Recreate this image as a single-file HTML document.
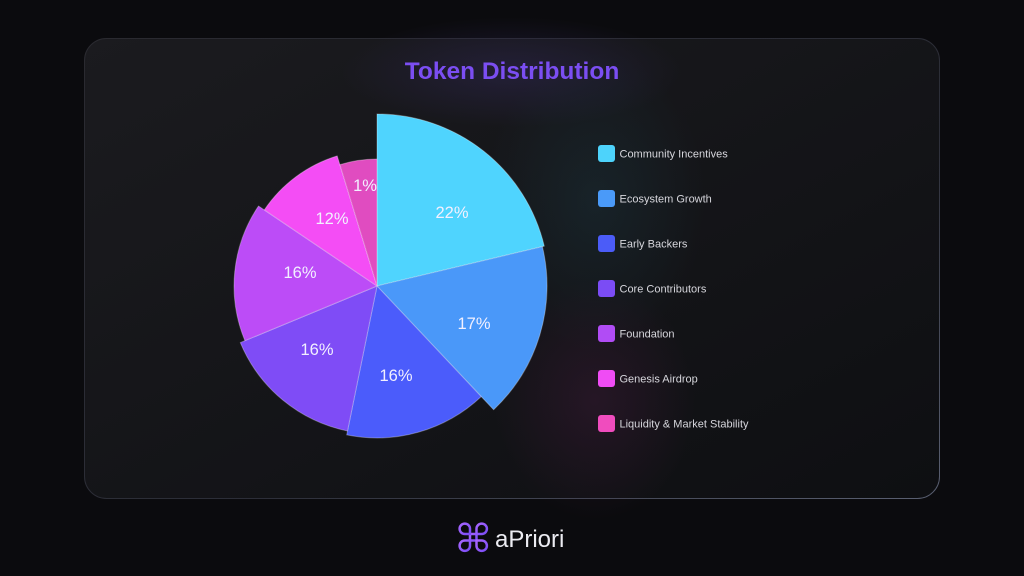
<!DOCTYPE html>
<html><head><meta charset="utf-8">
<style>
html,body{margin:0;padding:0;background:#0b0b0e;}
body{width:1024px;height:576px;overflow:hidden;position:relative;font-family:"Liberation Sans",Arial,sans-serif;}
svg{position:absolute;left:0;top:0;}
</style></head>
<body>
<svg width="1024" height="576" viewBox="0 0 1024 576" xmlns="http://www.w3.org/2000/svg">
<defs>
  <linearGradient id="card" x1="0" y1="0" x2="1" y2="1">
    <stop offset="0" stop-color="#1b1b1f"/>
    <stop offset="1" stop-color="#0e0f12"/>
  </linearGradient>
  <linearGradient id="border" x1="0" y1="0" x2="1" y2="1">
    <stop offset="0" stop-color="#2a2a30"/>
    <stop offset="0.6" stop-color="#2c2e38"/>
    <stop offset="1" stop-color="#5a6072"/>
  </linearGradient>
  <radialGradient id="titleGlow" cx="0.5" cy="0.5" r="0.5">
    <stop offset="0" stop-color="#32285a" stop-opacity="0.45"/>
    <stop offset="1" stop-color="#32285a" stop-opacity="0"/>
  </radialGradient>
  <radialGradient id="tealGlow" cx="0.5" cy="0.5" r="0.5">
    <stop offset="0" stop-color="#1d3c46" stop-opacity="0.35"/>
    <stop offset="1" stop-color="#1d3c46" stop-opacity="0"/>
  </radialGradient>
  <radialGradient id="pinkGlow" cx="0.5" cy="0.5" r="0.5">
    <stop offset="0" stop-color="#4a1c42" stop-opacity="0.35"/>
    <stop offset="1" stop-color="#4a1c42" stop-opacity="0"/>
  </radialGradient>
  <linearGradient id="logoG" x1="0" y1="0" x2="1" y2="1">
    <stop offset="0" stop-color="#a866ff"/>
    <stop offset="1" stop-color="#7a4cf5"/>
  </linearGradient>
</defs>

<rect x="0" y="0" width="1024" height="576" fill="#0b0b0e"/>
<rect x="84.5" y="38.5" width="855" height="460" rx="22" fill="url(#card)" stroke="url(#border)" stroke-width="1"/>

<ellipse cx="512" cy="72" rx="170" ry="55" fill="url(#titleGlow)"/>
<ellipse cx="595" cy="200" rx="110" ry="150" fill="url(#tealGlow)"/>
<ellipse cx="595" cy="400" rx="100" ry="120" fill="url(#pinkGlow)"/>

<text x="512" y="79" text-anchor="middle" font-family="Liberation Sans, Arial, sans-serif" font-weight="bold" font-size="24.5" fill="#7b4ef2">Token Distribution</text>

<!-- Pie -->
<g stroke="#ffffff" stroke-opacity="0.3" stroke-width="1" stroke-linejoin="round">
  <path d="M377,286 L377,114 A172,172 0 0 1 544.3,246.1 Z" fill="#4fd4fe"/>
  <path d="M377,286 L542.4,246.6 A170,170 0 0 1 493.6,409.7 Z" fill="#4a98f9"/>
  <path d="M377,286 L481.2,396.6 A152,152 0 0 1 346.7,434.9 Z" fill="#4b5cfb"/>
  <path d="M377,286 L347.5,431 A148,148 0 0 1 240.3,342.6 Z" fill="#7f4cf6"/>
  <path d="M377,286 L244.9,340.7 A143,143 0 0 1 258.5,206 Z" fill="#bc4cf7"/>
  <path d="M377,286 L264.3,209.9 A136,136 0 0 1 337.2,155.9 Z" fill="#f44df5"/>
  <path d="M377,286 L339.9,164.6 A127,127 0 0 1 377,159 Z" fill="#e04cc0"/>
</g>

<g font-family="Liberation Sans, Arial, sans-serif" font-size="16.5" fill="#f2f0ff" text-anchor="middle">
  <text x="452" y="218">22%</text>
  <text x="474" y="329">17%</text>
  <text x="396" y="381">16%</text>
  <text x="317" y="355">16%</text>
  <text x="300" y="278">16%</text>
  <text x="332" y="224">12%</text>
  <text x="365" y="191">1%</text>
</g>

<!-- Legend -->
<g>
  <rect x="598" y="145" width="17" height="17" rx="3" fill="#4dd3fb"/>
  <rect x="598" y="190" width="17" height="17" rx="3" fill="#4a9af8"/>
  <rect x="598" y="235" width="17" height="17" rx="3" fill="#4b5cf8"/>
  <rect x="598" y="280" width="17" height="17" rx="3" fill="#7b4cf5"/>
  <rect x="598" y="325" width="17" height="17" rx="3" fill="#b14cf5"/>
  <rect x="598" y="370" width="17" height="17" rx="3" fill="#f04cf5"/>
  <rect x="598" y="415" width="17" height="17" rx="3" fill="#f04cbe"/>
</g>
<g font-family="Liberation Sans, Arial, sans-serif" font-size="11" fill="#d6d6dc">
  <text x="619.5" y="157.5">Community Incentives</text>
  <text x="619.5" y="202.5">Ecosystem Growth</text>
  <text x="619.5" y="247.5">Early Backers</text>
  <text x="619.5" y="292.5">Core Contributors</text>
  <text x="619.5" y="337.5">Foundation</text>
  <text x="619.5" y="382.5">Genesis Airdrop</text>
  <text x="619.5" y="427.5">Liquidity &amp; Market Stability</text>
</g>

<!-- Logo -->
<g fill="none" stroke="url(#logoG)" stroke-width="2.5" stroke-linecap="round" stroke-linejoin="round">
  <rect x="470" y="534" width="6.5" height="6.5"/>
  <path d="M470,534 L470,528.8 A5.2,5.2 0 1 0 464.8,534 L470,534"/>
  <path d="M476.5,534 L476.5,528.8 A5.2,5.2 0 1 1 481.7,534 L476.5,534"/>
  <path d="M470,540.5 L470,545.7 A5.2,5.2 0 1 1 464.8,540.5 L470,540.5"/>
  <path d="M476.5,540.5 L476.5,545.7 A5.2,5.2 0 1 0 481.7,540.5 L476.5,540.5"/>
</g>
<text x="495" y="547" font-family="Liberation Sans, Arial, sans-serif" font-size="24" fill="#ececf2">aPriori</text>
</svg>
</body></html>
